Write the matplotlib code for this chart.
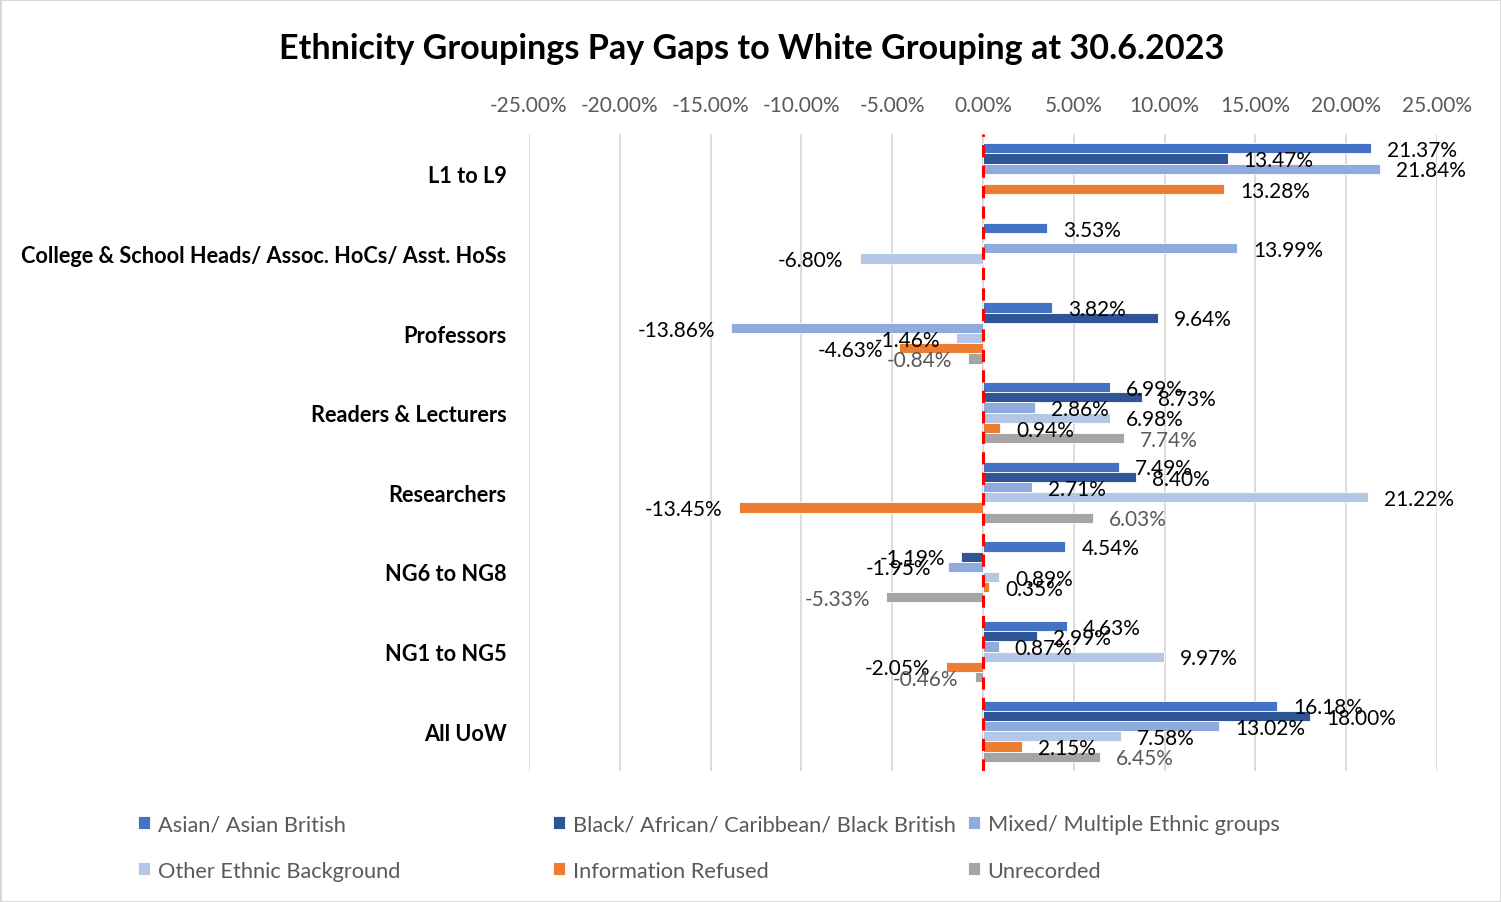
import numpy as np
import matplotlib
matplotlib.use('Agg')
import matplotlib.pyplot as plt
from matplotlib.ticker import FuncFormatter, MultipleLocator

plt.rcParams['font.family'] = ['Lato', 'DejaVu Sans']

# pay gap data (%), NaN where no figure was published
categories = ['L1 to L9', 'College & School Heads/ Assoc. HoCs/ Asst. HoSs',
              'Professors', 'Readers & Lecturers', 'Researchers',
              'NG6 to NG8', 'NG1 to NG5', 'All UoW']
series_names = ['Asian/ Asian British', 'Black/ African/ Caribbean/ Black British',
                'Mixed/ Multiple Ethnic groups', 'Other Ethnic Background',
                'Information Refused', 'Unrecorded']
nan = np.nan
asian = [21.37, 3.53, 3.82, 6.99, 7.49, 4.54, 4.63, 16.18]
black = [13.47, nan, 9.64, 8.73, 8.40, -1.19, 2.99, 18.00]
mixed = [21.84, 13.99, -13.86, 2.86, 2.71, -1.95, 0.87, 13.02]
other = [nan, -6.80, -1.46, 6.98, 21.22, 0.89, 9.97, 7.58]
refused = [13.28, nan, -4.63, 0.94, -13.45, 0.35, -2.05, 2.15]
unrecorded = [nan, nan, -0.84, 7.74, 6.03, -5.33, -0.46, 6.45]

colors = ['#4472C4', '#2F5597', '#8FAADC', '#B4C7E7', '#ED7D31', '#A5A5A5']
label_colors = ['black', 'black', 'black', 'black', 'black', '#595959']

all_series = [asian, black, mixed, other, refused, unrecorded]

fig = plt.figure(figsize=(15.01, 9.03), dpi=100)
fig.patch.set_edgecolor('#D9D9D9')
fig.patch.set_linewidth(2)
ax = fig.add_axes([0.3524, 0.1451, 0.6050, 0.7054])

y = np.arange(len(categories))
h = 0.128
bars = []
for i, (vals, col, lcol) in enumerate(zip(all_series, colors, label_colors)):
    pos = y + (i - 2.5) * h
    b = ax.barh(pos, vals, height=h, color=col, edgecolor='white',
                linewidth=0.6, label=series_names[i], zorder=2)
    bars.append(b)
    for yy, v in zip(pos, vals):
        if np.isnan(v):
            continue
        off = 11.5 if v >= 0 else -11.5
        ax.annotate(f'{v:.2f}%', xy=(v, yy), xytext=(off, -1.2),
                    textcoords='offset points', va='center',
                    ha='left' if v >= 0 else 'right',
                    fontsize=15, color=lcol, zorder=4)

ax.axvline(0, color='#FF0000', lw=2.2, ls=(0, (4, 2.7)), zorder=3)

ax.set_xlim(-25, 25)
ax.set_ylim(len(categories) - 0.5, -0.5)
ax.xaxis.set_major_locator(MultipleLocator(5))
ax.xaxis.set_major_formatter(FuncFormatter(lambda v, p: f'{v:.2f}%'))
ax.tick_params(axis='x', top=True, labeltop=True, bottom=False, labelbottom=False,
               length=0, pad=14, labelsize=15, labelcolor='#595959')
ax.set_yticks(y)
ax.set_yticklabels(categories, fontweight='bold', fontsize=15.7)
ax.tick_params(axis='y', length=0, pad=16)
ax.grid(axis='x', color='#D9D9D9', lw=1.3, zorder=0)
ax.set_axisbelow(True)
for s in ax.spines.values():
    s.set_visible(False)

fig.text(0.501, 0.946, 'Ethnicity Groupings Pay Gaps to White Grouping at 30.6.2023',
         ha='center', va='center', fontsize=24.6, fontweight='bold')

# legend laid out in three equal-width columns
col_x = [138 / 1501, 553 / 1501, 968 / 1501]
for c in range(3):
    handles = [bars[c], bars[c + 3]]
    fig.legend(handles=handles, labels=[series_names[c], series_names[c + 3]],
               loc='upper left', bbox_to_anchor=(col_x[c], 0.097),
               frameon=False, fontsize=15.7, labelcolor='#595959',
               handlelength=0.55, handleheight=0.55, handletextpad=0.35,
               labelspacing=1.2, borderpad=0, borderaxespad=0)

fig.savefig('out.png', dpi=100)
